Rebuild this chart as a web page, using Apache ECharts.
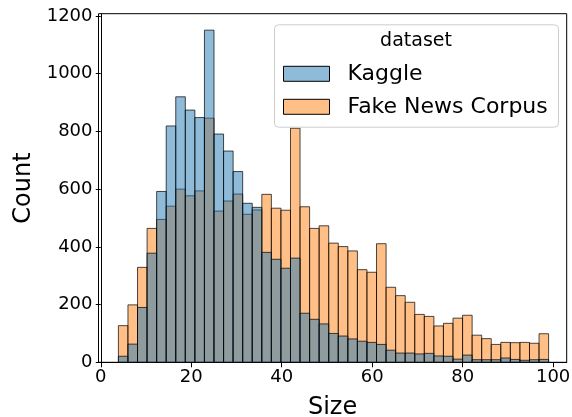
<!DOCTYPE html>
<html>
<head>
<meta charset="utf-8">
<script src="https://cdn.jsdelivr.net/npm/echarts@6/dist/echarts.min.js"></script>
<style>
html,body{margin:0;padding:0;background:#fff;}
#c{width:572px;height:417px;}
</style>
</head>
<body>
<div id="c"></div>
<script>
const binStart = 3.9;
const binEnd = 99;
const kaggle = [21,63,190,378,592,819,920,874,848,1151,791,732,661,551,537,381,357,326,361,170,149,133,100,91,81,73,69,62,42,32,32,29,31,22,21,11,25,9,9,9,15,10,7,9,10];
const fakeNews = [127,199,329,464,495,541,600,577,594,846,524,559,583,513,528,582,534,527,811,539,464,473,413,401,386,321,312,411,260,231,208,166,159,126,135,153,163,94,82,62,69,68,69,66,99];
const xTicks = [0,20,40,60,80,100];
const yTicks = [0,200,400,600,800,1000,1200];
const seriesNames = ['Kaggle','Fake News Corpus'];

const FONT = 'DejaVu Sans';
const nb = kaggle.length;
const bw = (binEnd - binStart) / nb;
function toData(arr){ return arr.map((v,i)=>[binStart + i*bw, binStart + (i+1)*bw, v]); }

function renderBar(params, api){
  const x0 = api.value(0), x1 = api.value(1), v = api.value(2);
  const p0 = api.coord([x0, 0]);
  const p1 = api.coord([x1, v]);
  return {
    type:'rect',
    shape:{x:p0[0], y:p1[1], width:p1[0]-p0[0], height:p0[1]-p1[1]},
    style:{fill: api.visual('color'), stroke:'rgba(0,0,0,0.7)', lineWidth:1}
  };
}

const chart = echarts.init(document.getElementById('c'), null, {renderer:'canvas'});
chart.setOption({
  animation:false,
  grid:{left:98.5, right:5.3, top:13.7, bottom:54.7, show:true, borderColor:'#000', borderWidth:1, backgroundColor:'transparent', containLabel:false, outerBoundsMode:'none'},
  xAxis:{
    type:'value', min:-0.5, max:103,
    name:'Size', nameLocation:'middle', nameGap:33,
    nameTextStyle:{fontFamily:FONT, fontSize:24, color:'#000'},
    axisLine:{show:true, onZero:false, lineStyle:{color:'#000', width:1}},
    axisTick:{show:true, length:5, lineStyle:{color:'#000'}, customValues:xTicks},
    axisLabel:{fontFamily:FONT, fontSize:18, color:'#000', margin:6, customValues:xTicks, formatter:v=>String(v)},
    splitLine:{show:false}
  },
  yAxis:{
    type:'value', min:0, max:1208,
    name:'Count', nameLocation:'middle', nameGap:63,
    nameTextStyle:{fontFamily:FONT, fontSize:24, color:'#000'},
    axisLine:{show:true, lineStyle:{color:'#000', width:1}},
    axisTick:{show:true, length:5, lineStyle:{color:'#000'}, customValues:yTicks},
    axisLabel:{fontFamily:FONT, fontSize:18, color:'#000', margin:6, customValues:yTicks, formatter:v=>String(v)},
    splitLine:{show:false}
  },
  legend:{
    orient:'vertical', left:283, top:62.8, z:20, padding:0,
    itemWidth:46, itemHeight:15, itemGap:11,
    data:seriesNames.map(n=>({name:n, icon:'rect'})),
    itemStyle:{borderColor:'#000', borderWidth:1},
    textStyle:{fontFamily:FONT, fontSize:22, color:'#000', lineHeight:22, padding:[0,0,0,13]},
    selectedMode:false
  },
  graphic:[
    {type:'rect', left:274, top:24.3, shape:{width:284, height:102.4, r:4}, style:{fill:'rgba(255,255,255,0.8)', stroke:'#cccccc', lineWidth:1}, z:10},
    {type:'text', x:416, y:41.5, style:{text:'dataset', fontFamily:FONT, fontSize:19, fill:'#000', textAlign:'center', textVerticalAlign:'middle'}, z:21}
  ],
  series:[
    {name:'Fake News Corpus', type:'custom', renderItem:renderBar, data:toData(fakeNews), itemStyle:{color:'rgba(255,127,14,0.5)'}, encode:{x:[0,1], y:2}, z:2},
    {name:'Kaggle', type:'custom', renderItem:renderBar, data:toData(kaggle), itemStyle:{color:'rgba(31,119,180,0.5)'}, encode:{x:[0,1], y:2}, z:3}
  ]
});
</script>
</body>
</html>
